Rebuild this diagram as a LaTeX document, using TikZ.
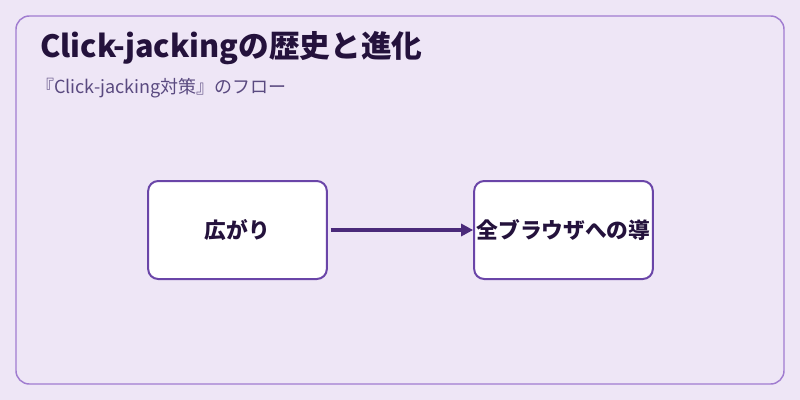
\documentclass[tikz,border=0pt]{standalone}
\usepackage{fontspec}
\setmainfont{Noto Sans CJK JP}
\usetikzlibrary{arrows.meta}
\definecolor{bg}{HTML}{EEE6F6}
\definecolor{frame}{HTML}{A07CD0}
\definecolor{boxb}{HTML}{6A45A8}
\definecolor{arr}{HTML}{4A2A7A}
\definecolor{ttl}{HTML}{24123C}
\definecolor{sub}{HTML}{5A4A80}
\begin{document}
\begin{tikzpicture}[x=0.75pt,y=-0.75pt,
  box/.style={draw=boxb,line width=1.5pt,fill=white,rounded corners=7.5pt,minimum width=134pt,minimum height=73.5pt,font=\fontsize{16.3pt}{19pt}\selectfont\bfseries,text=ttl,inner sep=0pt}]
\useasboundingbox (0,0) rectangle (800,400);
\fill[bg] (0,0) rectangle (800,400);
\draw[frame,line width=1.1pt,rounded corners=10pt,fill=bg] (16,16) rectangle (784,384);
\node[anchor=west,text=ttl,font=\fontsize{23pt}{27pt}\selectfont\bfseries,inner sep=0pt] (t) at (40,48) {Click-jackingの歴史と進化};
\node[anchor=west,text=sub,font=\fontsize{13.5pt}{16pt}\selectfont,inner sep=0pt] (s) at (36,88) {『Click-jacking対策』のフロー};
\node[box] (a) at (237.5,230) {広がり};
\node[box] (b) at (563.5,230) {全ブラウザへの導};
\draw[arr,line width=2.6pt,-{Triangle[length=9pt,width=9pt]}] (a.east)++(2pt,0) -- (b.west);
\end{tikzpicture}
\end{document}
